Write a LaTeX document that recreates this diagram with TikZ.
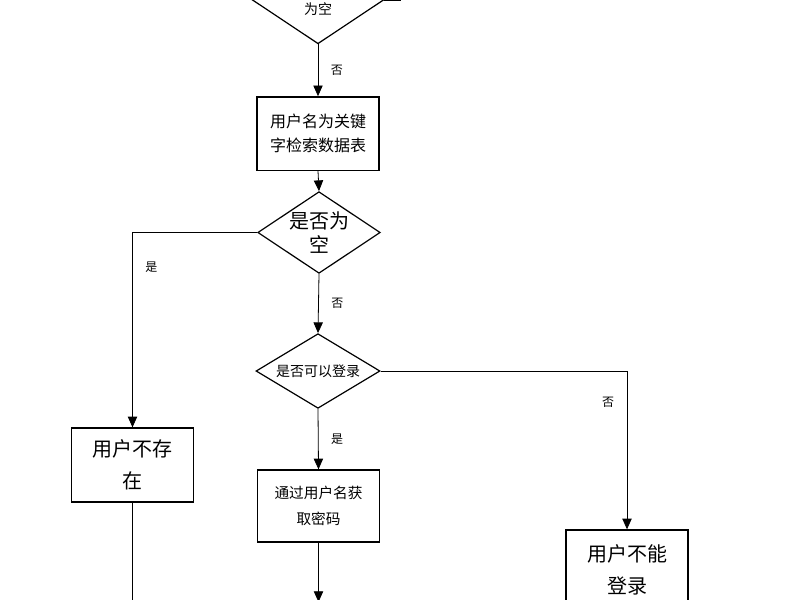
\documentclass[tikz,border=0pt]{standalone}
\usepackage{fontspec}
\setmainfont{Noto Sans CJK SC}
\usetikzlibrary{shapes.geometric,arrows.meta}
\begin{document}
\begin{tikzpicture}[x=0.75pt,y=-0.75pt,
  box/.style={draw,line width=1pt,minimum width=91.5pt,inner sep=0pt,align=center},
  dia/.style={draw,line width=0.9pt,diamond,aspect=1.5,inner sep=0pt,align=center},
  arr/.style={line width=0.6pt,-{Triangle[length=8pt,width=7pt]}},
  ln/.style={line width=0.6pt},
  lbl/.style={font=\fontsize{9}{10}\selectfont}]
\useasboundingbox (0,0) rectangle (800,600);
\node[dia,minimum width=90pt,minimum height=58pt,font=\fontsize{10.5}{14}\selectfont] (d0) at (318,0) {输入信息是否\\为空};
\coordinate (t0) at (400,-10);
\draw[ln] (d0.east) -| (t0);
\node[box,minimum height=55pt,font=\fontsize{12}{18}\selectfont] (b1) at (318,133.5) {用户名为关键\\字检索数据表};
\draw[arr] (d0.south) -- node[lbl,right=6pt]{否} (b1.north);
\node[dia,minimum width=91pt,minimum height=60pt,font=\fontsize{15}{18}\selectfont] (d2) at (319,232.5) {是否为\\空};
\draw[arr] (b1.south) -- (d2.north);
\node[box,minimum height=55.5pt,font=\fontsize{15}{24}\selectfont] (b3) at (132.5,465) {用户不存\\在};
\draw[arr] (d2.west) -| node[lbl,pos=0.59,right=6pt]{是} (b3.north);
\node[dia,minimum width=93pt,minimum height=56pt,font=\fontsize{10.5}{12}\selectfont] (d3) at (318,371) {是否可以登录};
\draw[arr] (d2.south) -- node[lbl,right=6pt]{否} (d3.north);
\node[box,minimum height=54pt,font=\fontsize{11}{20}\selectfont] (b4) at (318.5,506) {通过用户名获\\取密码};
\draw[arr] (d3.south) -- node[lbl,right=6pt]{是} (b4.north);
\node[box,minimum height=60pt,font=\fontsize{15}{24}\selectfont] (b5) at (627,570) {用户不能\\登录};
\draw[arr] (d3.east) -| node[lbl,pos=0.6,left=6pt]{否} (b5.north);
\coordinate (e3) at (132.5,605);
\coordinate (e4) at (318.5,602);
\draw[ln] (b3.south) -- (e3);
\draw[arr] (b4.south) -- (e4);
\end{tikzpicture}
\end{document}
